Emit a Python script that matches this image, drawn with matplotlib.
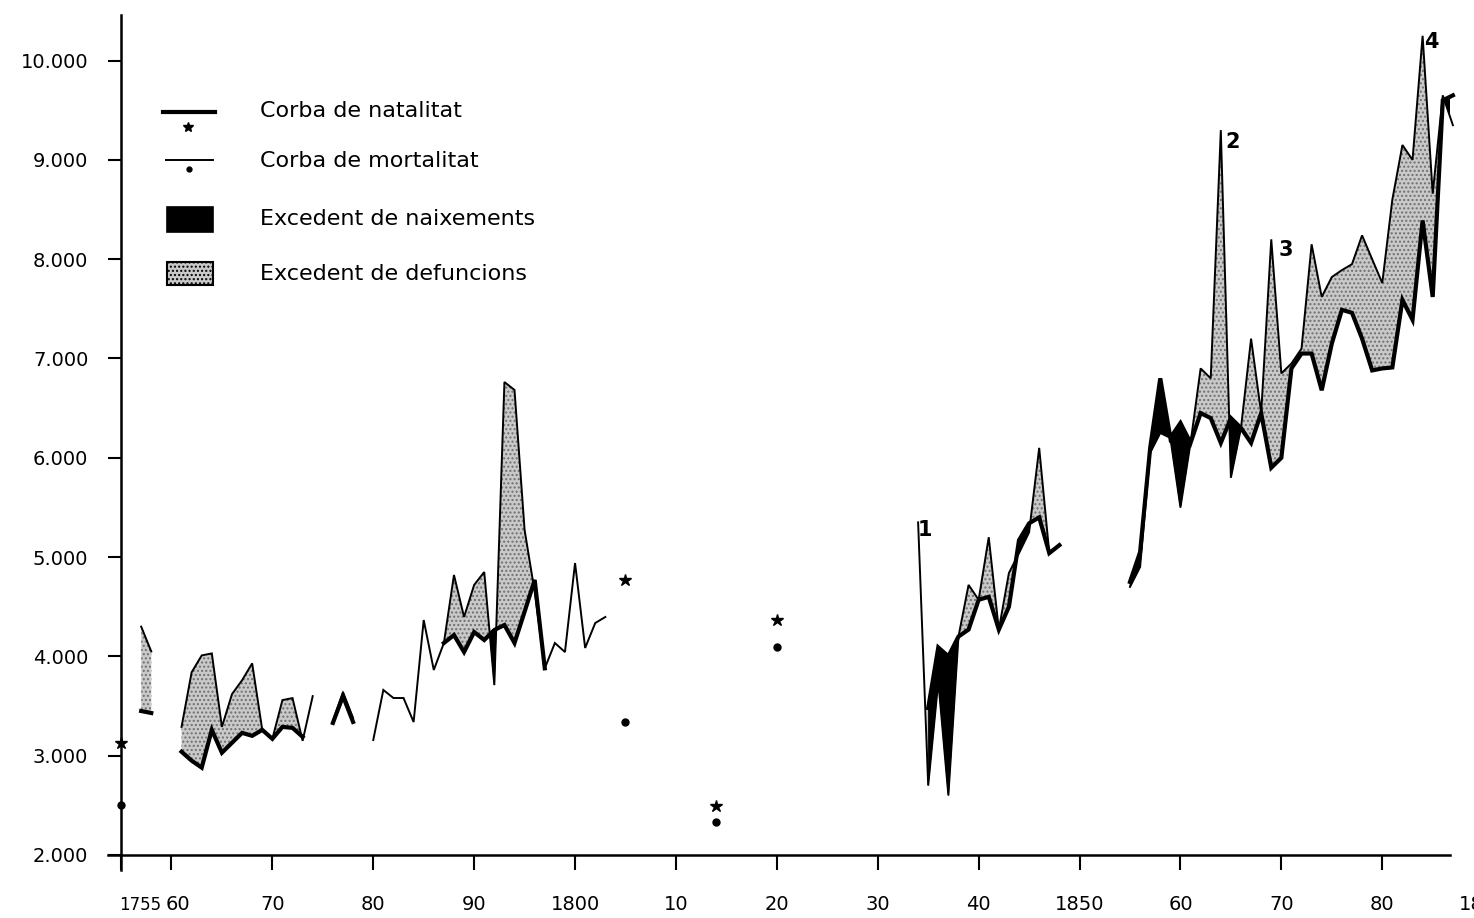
import numpy as np
import matplotlib
matplotlib.use("Agg")
import matplotlib.pyplot as plt
from matplotlib.patches import Rectangle

nan = np.nan

# ---------------- data (births = natalitat, deaths = mortalitat) ----------------
seg_a_years = [1757, 1758]
seg_a_births = [3450, 3430]
seg_a_deaths = [4300, 4050]

seg_b_years = [1761, 1762, 1763, 1764, 1765, 1766, 1767, 1768, 1769, 1770, 1771, 1772, 1773, 1774]
seg_b_births = [3040, 2950, 2880, 3260, 3030, 3130, 3230, 3200, 3260, 3170, 3290, 3280, 3190, nan]
seg_b_deaths = [3290, 3840, 4010, 4030, 3290, 3620, 3760, 3930, 3260, 3170, 3560, 3580, 3150, 3600]

seg_c_years = [1776, 1777, 1778]
seg_c_births = [3330, 3600, 3340]
seg_c_deaths = [3350, 3640, 3380]

seg_d_years = [1780, 1781, 1782, 1783, 1784, 1785, 1786, 1787, 1788, 1789, 1790, 1791,
               1792, 1793, 1794, 1795, 1796, 1797, 1798, 1799, 1800, 1801, 1802, 1803]
seg_d_births = [nan, nan, nan, nan, nan, nan, nan, 4135, 4215, 4044, 4245, 4165,
                4266, 4316, 4135, 4450, 4770, 3880, nan, nan, nan, nan, nan, nan]
seg_d_deaths = [3158, 3662, 3581, 3581, 3339, 4366, 3863, 4135, 4820, 4397, 4720, 4850,
                3712, 6763, 6683, 5273, 4650, 3880, 4135, 4044, 4940, 4085, 4336, 4397]

pt_years = [1755, 1805, 1814, 1820]
pt_births = [3130, 4770, 2490, 4370]
pt_deaths = [2500, 3340, 2330, 4090]

seg_f_years = [1834, 1835, 1836, 1837, 1838, 1839, 1840, 1841, 1842, 1843, 1844, 1845, 1846, 1847, 1848]
seg_f_births = [nan, 3480, 4090, 4000, 4200, 4270, 4570, 4600, 4270, 4500, 5170, 5340, 5400, 5040, 5120]
seg_f_deaths = [5350, 2700, 3750, 2600, 4200, 4720, 4570, 5200, 4270, 4840, 5040, 5250, 6100, 5040, 5120]

seg_g_years = list(range(1855, 1888))
seg_g_births = [4750, 5050, 6100, 6800, 6200, 6350, 6150, 6450, 6400, 6150, 6400, 6300, 6150,
                6450, 5900, 6000, 6900, 7050, 7050, 6680, 7150, 7490, 7460, 7200, 6880, 6900,
                6910, 7590, 7390, 8390, 7620, 9600, 9650]
seg_g_deaths = [4700, 4900, 6050, 6250, 6200, 5500, 6150, 6900, 6800, 9300, 5800, 6300, 7200,
                6450, 8200, 6850, 6950, 7100, 8150, 7620, 7820, 7890, 7950, 8240, 8000, 7760,
                8600, 9150, 9000, 10250, 8660, 9650, 9350]

crisis_labels = ["1", "2", "3", "4"]
crisis_pos = [(1834.7, 5270), (1865.2, 9180), (1870.4, 8090), (1884.9, 10190)]

ytick_vals = [2000, 3000, 4000, 5000, 6000, 7000, 8000, 9000, 10000]
ytick_labels = ["2.000", "3.000", "4.000", "5.000", "6.000", "7.000", "8.000", "9.000", "10.000"]
xtick_vals = [1755, 1760, 1770, 1780, 1790, 1800, 1810, 1820, 1830, 1840, 1850, 1860, 1870, 1880]
xtick_labels = ["1755", "60", "70", "80", "90", "1800", "10", "20", "30", "40", "1850", "60", "70", "80"]

legend_labels = ["Corba de natalitat", "Corba de mortalitat",
                 "Excedent de naixements", "Excedent de defuncions"]

# ---------------- figure ----------------
plt.rcParams['font.family'] = ['DejaVu Sans']
W, H = 1474, 918
fig = plt.figure(figsize=(W / 100, H / 100), dpi=100)
fig.patch.set_facecolor('white')

x_left_px, x_right_px = 121, 1450
y_bot_px, y_top_px = 855, 15
px_per_year = 10.09
px_per_unit = 99.3 / 1000.0
xmax = 1755 + (x_right_px - x_left_px) / px_per_year
ymax = 2000 + (y_bot_px - y_top_px) / px_per_unit

ax = fig.add_axes([x_left_px / W, (H - y_bot_px) / H,
                   (x_right_px - x_left_px) / W, (y_bot_px - y_top_px) / H])
ax.set_xlim(1755, xmax)
ax.set_ylim(2000, ymax)

LIGHT = '#c9c9c9'
HATCH_EC = '#6f6f6f'
LW_B = 3.0
LW_D = 1.4


def draw_segment(years, births, deaths):
    x = np.array(years, dtype=float)
    b = np.array(births, dtype=float)
    d = np.array(deaths, dtype=float)
    both = ~np.isnan(b) & ~np.isnan(d)
    if both.sum() >= 2:
        ax.fill_between(x, b, d, where=both & (d >= b), interpolate=True,
                        facecolor=LIGHT, edgecolor=HATCH_EC, hatch='....',
                        linewidth=0, zorder=2)
        ax.fill_between(x, b, d, where=both & (b >= d), interpolate=True,
                        facecolor='black', edgecolor='black', linewidth=0.6, zorder=2)
    ax.plot(x, d, color='black', lw=LW_D, solid_joinstyle='miter', zorder=3, clip_on=False)
    ax.plot(x, b, color='black', lw=LW_B, solid_joinstyle='miter', zorder=4, clip_on=False)


draw_segment(seg_a_years, seg_a_births, seg_a_deaths)
draw_segment(seg_b_years, seg_b_births, seg_b_deaths)
draw_segment(seg_c_years, seg_c_births, seg_c_deaths)
draw_segment(seg_d_years, seg_d_births, seg_d_deaths)
draw_segment(seg_f_years, seg_f_births, seg_f_deaths)
draw_segment(seg_g_years, seg_g_births, seg_g_deaths)

ax.plot(pt_years, pt_births, linestyle='none', marker='*', ms=9, color='black', zorder=5, clip_on=False)
ax.plot(pt_years, pt_deaths, linestyle='none', marker='o', ms=5, color='black', zorder=5, clip_on=False)

for lab, (xx, yy) in zip(crisis_labels, crisis_pos):
    ax.text(xx, yy, lab, fontsize=15, fontweight='bold', ha='center', va='center', zorder=6)

# axes styling
for s in ['top', 'right']:
    ax.spines[s].set_visible(False)
ax.spines['left'].set_linewidth(1.8)
ax.spines['bottom'].set_linewidth(1.8)
ax.spines['left'].set_bounds(1850, ymax)
ax.spines['bottom'].set_bounds(1755 - 13 / px_per_year, xmax)

ax.set_yticks(ytick_vals)
ax.set_yticklabels(ytick_labels, fontsize=14)
ax.tick_params(axis='y', direction='out', length=9.5, width=1.5, pad=14)

ax.set_xticks(xtick_vals)
ax.set_xticklabels([''] * len(xtick_vals))
ax.tick_params(axis='x', direction='out', length=11, width=1.5)
for i, (t, lab) in enumerate(zip(xtick_vals, xtick_labels)):
    dx, fs = 0, 14
    if i == 0:
        dx, fs = 19, 12
    elif i == 1:
        dx = 6
    ax.annotate(lab, xy=(t, 0), xycoords=('data', 'axes fraction'),
                xytext=(dx, -50), textcoords='offset pixels',
                ha='center', va='center', fontsize=fs, annotation_clip=False)
ax.annotate("1890", xy=(1890, 0), xycoords=('data', 'axes fraction'),
            xytext=(0, -50), textcoords='offset pixels',
            ha='center', va='center', fontsize=14, annotation_clip=False)

# ---------------- legend (drawn in pixel space) ----------------
ov = fig.add_axes([0, 0, 1, 1], facecolor='none')
ov.set_xlim(0, W)
ov.set_ylim(H, 0)
ov.axis('off')
ov.plot([163, 215], [112, 112], color='black', lw=LW_B)
ov.plot([188], [127], marker='*', ms=7, color='black')
ov.plot([166, 213], [160, 160], color='black', lw=LW_D)
ov.plot([189], [169], marker='o', ms=3.5, color='black')
ov.add_patch(Rectangle((167, 207), 46, 25, facecolor='black', edgecolor='black', lw=1.2))
ov.add_patch(Rectangle((167, 262), 46, 23, facecolor=LIGHT, edgecolor='black',
                       hatch='....', lw=1.5))
for lab, yy in zip(legend_labels, [111, 161, 219, 274]):
    ov.text(260, yy, lab, fontsize=16, ha='left', va='center')

fig.savefig('out.png', dpi=100)
